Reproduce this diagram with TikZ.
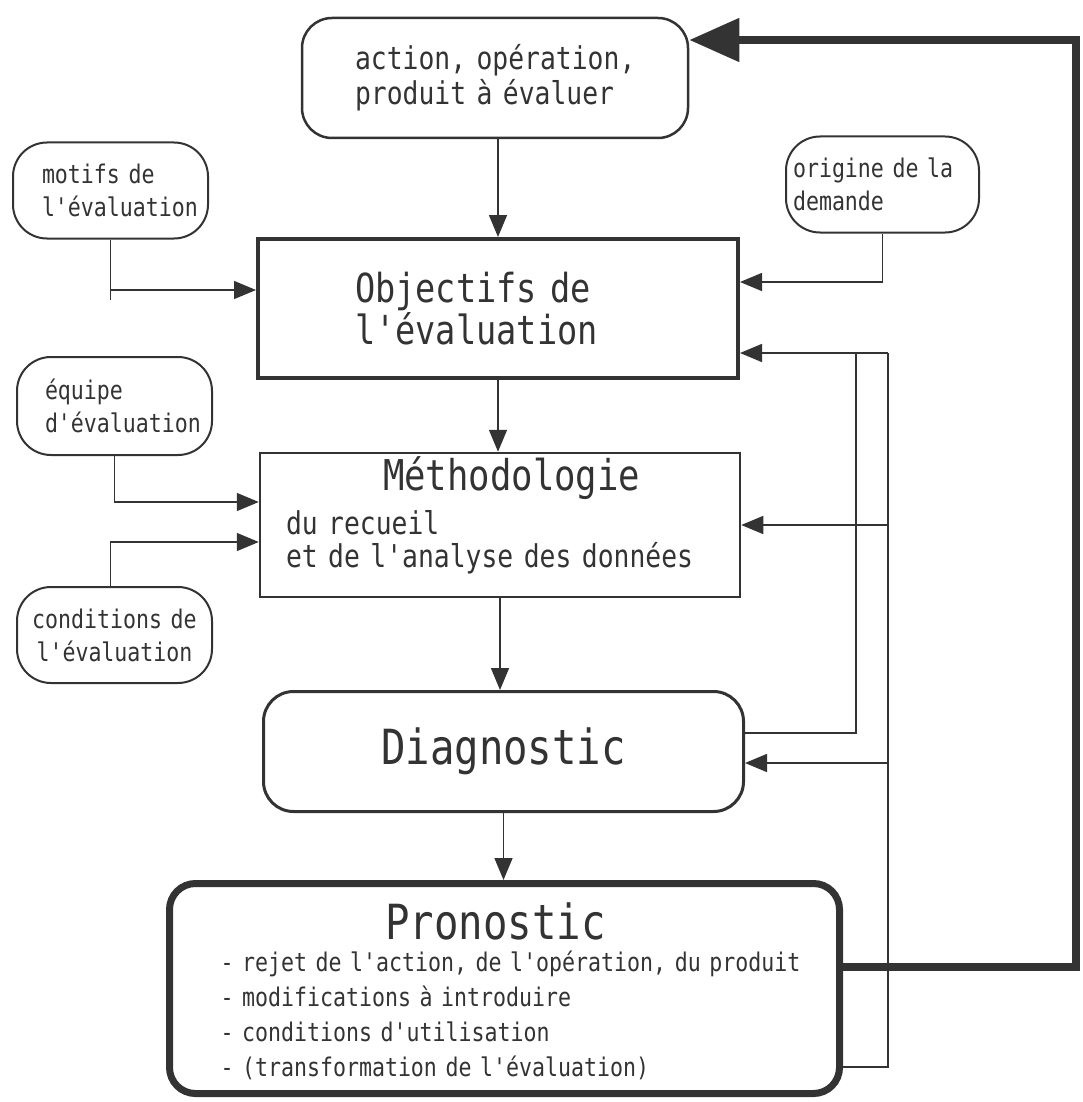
\documentclass[tikz,border=0pt]{standalone}
\usepackage{fontspec}
\newfontfamily\plotter[FakeStretch=0.84]{DejaVu Sans Mono}
\usetikzlibrary{arrows.meta}
\definecolor{ink}{HTML}{333333}

\begin{document}
\begin{tikzpicture}[x=1pt,y=-1pt,line join=miter,
	fl/.style={line width=1.6pt,draw=ink},
	arr/.style={fl,-{Triangle[length=22pt,width=18pt]}},
	bigarr/.style={line width=8pt,draw=ink,-{Triangle[length=50pt,width=42pt]}},
	box/.style={draw=ink,text=ink,inner sep=0pt},
	small/.style={box,rounded corners=34pt,line width=2pt,minimum width=195pt,minimum height=96pt,align=left,font=\plotter\fontsize{25.7}{33}\selectfont}]

\useasboundingbox (0,0) rectangle (1082,1102);

\node[box,rounded corners=30pt,line width=2.5pt,minimum width=386pt,minimum height=120pt,text width=300pt,align=left,font=\plotter\fontsize{31.4}{35}\selectfont] (act) at (495,78) {\hspace*{10pt}action, opération,\\\hspace*{10pt}produit à évaluer};

\node[small,text width=137pt] (motifs) at (110.5,190.5) {motifs de\\l'évaluation};
\node[small,text width=179pt,minimum width=193pt] (origine) at (882.5,184.5) {origine de la\\demande};
\node[small,text width=139pt,minimum height=98pt] (equipe) at (114.5,406) {équipe\\d'évaluation};
\node[small,text width=180pt,align=center] (cond) at (114.5,635) {conditions de\\l'évaluation};

\node[box,line width=4pt,minimum width=480pt,minimum height=139pt,text width=286pt,align=left,font=\plotter\fontsize{40}{39}\selectfont] (obj) at (498,308.5) {Objectifs de\\l'évaluation};

\node[box,line width=2.5pt,minimum width=480pt,minimum height=144pt,text width=428pt,align=left,font=\plotter\fontsize{31.4}{33}\selectfont] (meth) at (500,525) {\hspace*{97pt}{\fontsize{42.4}{43}\selectfont Méthodologie}\\[10pt]du recueil\\et de l'analyse des données\rule[-26pt]{0pt}{0pt}};

\node[box,rounded corners=30pt,line width=3pt,minimum width=480pt,minimum height=120pt,font=\plotter\fontsize{48.4}{50}\selectfont] (diag) at (503.5,751.5) {Diagnostic};

\node[box,rounded corners=26pt,line width=7pt,minimum width=670pt,minimum height=210pt,text width=600pt,align=left,font=\plotter\fontsize{25.7}{35}\selectfont] (pron) at (504.5,988.5) {\hspace*{181pt}{\fontsize{48.4}{50}\selectfont\rule{0pt}{43pt}Pronostic}\\[-3pt]
	\hspace*{16pt}- rejet de l'action, de l'opération, du produit\\
	\hspace*{16pt}- modifications à introduire\\
	\hspace*{16pt}- conditions d'utilisation\\
	\hspace*{16pt}- (transformation de l'évaluation)};

\coordinate (fbA) at (856,353);
\coordinate (fbB) at (888,353);
\coordinate (ret) at (1076,40);

\draw[arr] (act.south -| obj.north) -- (obj.north);
\draw[arr] (obj.south) -- (obj.south |- meth.north);
\draw[arr] (meth.south) -- (meth.south |- diag.north);
\draw[arr] (diag.south) -- (diag.south |- pron.north);

\draw[fl] (motifs.south) -- ++(0,60);
\draw[arr] ([yshift=18.5pt]obj.west -| motifs.south) -- ([yshift=18.5pt]obj.west);
\draw[arr] (origine.south) |- ([yshift=26.5pt]obj.east);
\draw[arr] (equipe.south) |- ([yshift=23pt]meth.west);
\draw[arr] ([xshift=-4pt]cond.north) |- ([yshift=-17pt]meth.west);

\draw[fl] ([yshift=18.5pt]diag.east) -| (fbA);
\draw[fl] ([yshift=-78.5pt]pron.east) -| (fbB);
\draw[arr] (fbB) -- (obj.east |- fbB);
\draw[arr] (fbB |- meth.east) -- (meth.east);
\draw[arr] ([yshift=-11.5pt]diag.east -| fbB) -- ([yshift=-11.5pt]diag.east);

\draw[bigarr] ([yshift=21.5pt]pron.east) -| (ret) -- (act.east |- ret);

\end{tikzpicture}
\end{document}
